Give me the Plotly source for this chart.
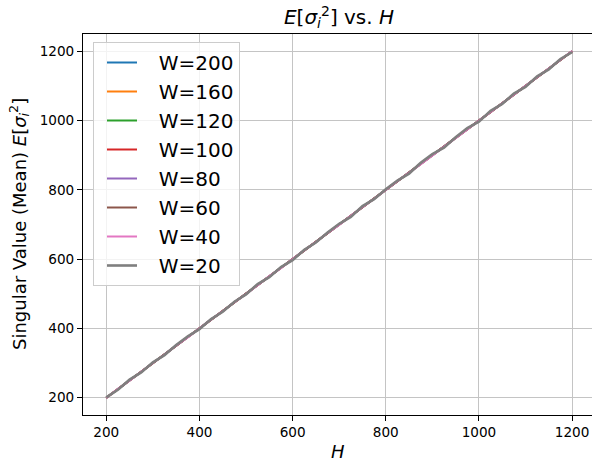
import plotly.graph_objects as go

H = [200, 225, 250, 275, 300, 325, 350, 375, 400, 425, 450, 475, 500, 525, 550,
     575, 600, 625, 650, 675, 700, 725, 750, 775, 800, 825, 850, 875, 900, 925,
     950, 975, 1000, 1025, 1050, 1075, 1100, 1125, 1150, 1175, 1200]

W_labels = ["W=200", "W=160", "W=120", "W=100", "W=80", "W=60", "W=40", "W=20"]

W200 = [200, 225, 250, 275, 300, 325, 350, 375, 400, 425, 450, 475, 500, 525, 550,
        575, 600, 625, 650, 675, 700, 725, 750, 775, 800, 825, 850, 875, 900, 925,
        950, 975, 1000, 1025, 1050, 1075, 1100, 1125, 1150, 1175, 1200]
W160 = [200, 225, 251, 275, 300, 325, 350, 375, 400, 425, 450, 475, 501, 525, 550,
        575, 600, 625, 650, 675, 700, 725, 750, 775, 800, 825, 850, 875, 900, 925,
        950, 975, 1000, 1025, 1050, 1075, 1100, 1125, 1150, 1175, 1200]
W120 = [200, 225, 250, 275, 300, 326, 350, 375, 400, 425, 450, 475, 500, 525, 550,
        575, 601, 625, 650, 675, 700, 725, 750, 775, 800, 825, 851, 875, 900, 925,
        950, 975, 1000, 1025, 1050, 1075, 1100, 1125, 1150, 1175, 1200]
W100 = [200, 225, 250, 275, 301, 325, 350, 375, 400, 425, 450, 475, 500, 525, 550,
        575, 600, 625, 650, 675, 700, 725, 750, 775, 800, 825, 850, 875, 900, 925,
        950, 975, 1001, 1025, 1050, 1075, 1100, 1125, 1150, 1175, 1200]
W80 = [200, 225, 250, 274, 300, 325, 351, 375, 400, 425, 450, 476, 500, 525, 550,
       575, 600, 625, 650, 676, 700, 725, 750, 775, 800, 825, 850, 875, 901, 925,
       950, 975, 1000, 1025, 1050, 1076, 1100, 1125, 1150, 1175, 1200]
W60 = [200, 226, 250, 275, 300, 324, 350, 376, 400, 425, 451, 475, 500, 524, 550,
       576, 600, 625, 649, 675, 701, 725, 750, 776, 800, 824, 850, 876, 900, 925,
       951, 975, 1000, 1024, 1050, 1075, 1101, 1125, 1150, 1176, 1200]
W40 = [199, 226, 249, 276, 301, 324, 351, 374, 401, 426, 449, 476, 499, 526, 551,
       574, 601, 626, 649, 676, 699, 726, 751, 774, 801, 826, 849, 874, 901, 924,
       951, 976, 999, 1026, 1051, 1074, 1101, 1126, 1149, 1176, 1201]
W20 = [201, 223, 252, 273, 302, 323, 352, 377, 398, 427, 448, 477, 498, 528, 548,
       577, 597, 627, 648, 677, 702, 722, 753, 773, 802, 827, 847, 878, 903, 922,
       952, 978, 997, 1028, 1048, 1078, 1097, 1128, 1148, 1178, 1198]

series = [W200, W160, W120, W100, W80, W60, W40, W20]
colors = ["#1f77b4", "#ff7f0e", "#2ca02c", "#d62728", "#9467bd", "#8c564b", "#e377c2", "#7f7f7f"]
widths = [2, 2, 2, 2, 2, 2, 2, 2.6]

fig = go.Figure()
for lab, ys, c, w in zip(W_labels, series, colors, widths):
    fig.add_trace(go.Scatter(x=H, y=ys, mode="lines", name="\u00a0\u00a0\u2009" + lab,
                             line=dict(color=c, width=w)))

font = "DejaVu Sans, Arial, sans-serif"
L, R, T, B = 83, 592, 34, 415
pw, ph = R - L, B - T


def px(X):
    return (X - L) / pw


def py(Y):
    return (B - Y) / ph


fig.update_layout(
    width=592, height=461,
    margin=dict(l=L, r=592 - R, t=T, b=461 - B, autoexpand=False),
    paper_bgcolor="white", plot_bgcolor="white",
    font=dict(family=font, color="black", size=13.6),
    title=dict(text="<i>E</i>[<i>σ</i><sub><i>i</i></sub><sup>2</sup>] vs. <i>H</i>",
               x=(83 + 595) / 2 / 592, xanchor="center", y=1 - 17 / 461, yanchor="middle",
               font=dict(size=20, family=font)),
    legend=dict(x=px(93), y=py(42), xanchor="left", yanchor="top",
                bgcolor="rgba(255,255,255,0.8)", bordercolor="#cccccc", borderwidth=1,
                font=dict(size=20, family=font), indentation=8),
    showlegend=True,
    annotations=[
        dict(text="<i>H</i>", x=px(338), y=py(451), xref="paper", yref="paper",
             showarrow=False, xanchor="center", yanchor="middle",
             font=dict(size=18, family=font)),
        dict(text="Singular Value (Mean) <i>E</i>[<i>σ</i><sub><i>i</i></sub><sup>2</sup>]",
             x=px(19), y=py(224), xref="paper", yref="paper", textangle=-90,
             showarrow=False, xanchor="center", yanchor="middle",
             font=dict(size=18, family=font)),
    ],
)
fig.update_xaxes(range=[150, 150 + pw / 0.4658], tickvals=[200, 400, 600, 800, 1000, 1200],
                 showgrid=True, gridcolor="#c4c4c4", gridwidth=1,
                 showline=True, linecolor="black", linewidth=1, mirror=True,
                 ticks="outside", ticklen=5, tickcolor="black",
                 zeroline=False, automargin=False)
fig.update_yaxes(range=[150, 1250], tickvals=[200, 400, 600, 800, 1000, 1200],
                 showgrid=True, gridcolor="#c4c4c4", gridwidth=1,
                 showline=True, linecolor="black", linewidth=1, mirror=False,
                 ticks="outside", ticklen=5, tickcolor="black",
                 zeroline=False, automargin=False)

fig.write_html("out.html", config={"displayModeBar": False},
               post_script="document.body.style.margin='0';document.body.style.overflow='hidden';")
